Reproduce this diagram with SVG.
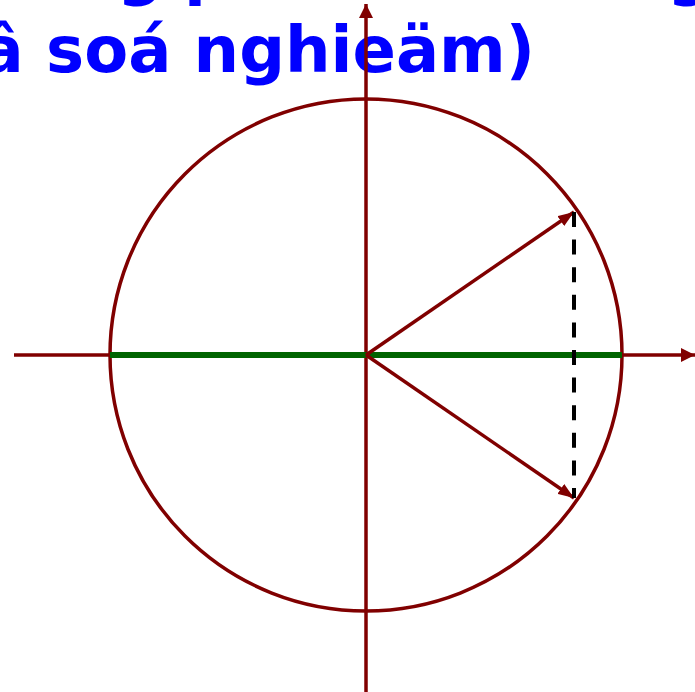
<svg xmlns="http://www.w3.org/2000/svg" width="695" height="692" viewBox="0 0 695 692">
<style>
.ttl{font-family:"DejaVu Sans","Liberation Sans",sans-serif;font-weight:bold;font-size:64px;fill:#0000ff}
.red{stroke:#800000;stroke-width:3.5;fill:none}
</style>
<defs>
<marker id="ah" viewBox="0 0 14 14" refX="14" refY="7" markerWidth="14" markerHeight="14" markerUnits="userSpaceOnUse" orient="auto">
<path d="M0,0 L14,7 L0,14 Z" fill="#800000"/>
</marker>
<marker id="ah2" viewBox="0 0 16 12" refX="16" refY="6" markerWidth="16" markerHeight="12" markerUnits="userSpaceOnUse" orient="auto">
<path d="M0,0 L16,6 L0,12 Z" fill="#800000"/>
</marker>
</defs>
<rect width="695" height="692" fill="#ffffff"/>
<g id="title">
<text class="ttl" x="117 184 667" y="-7">gpg</text>
<text class="ttl" x="535" y="72" text-anchor="end">â soá nghieäm)</text>
</g>
<g id="circle">
<circle class="red" cx="366" cy="355" r="256"/>
</g>
<g id="connectors">
<line class="red" x1="14" y1="355" x2="695" y2="355" marker-end="url(#ah)"/>
<line class="red" x1="366" y1="692" x2="366" y2="4" marker-end="url(#ah)"/>
<line x1="110" y1="355" x2="622" y2="355" stroke="#006400" stroke-width="6"/>
<line class="red" x1="366" y1="355" x2="574" y2="212" marker-end="url(#ah2)"/>
<line class="red" x1="366" y1="355" x2="574" y2="498" marker-end="url(#ah2)"/>
<line x1="574" y1="212" x2="574" y2="498" stroke="#000000" stroke-width="4" stroke-dasharray="15 12.6"/>
</g>
</svg>
